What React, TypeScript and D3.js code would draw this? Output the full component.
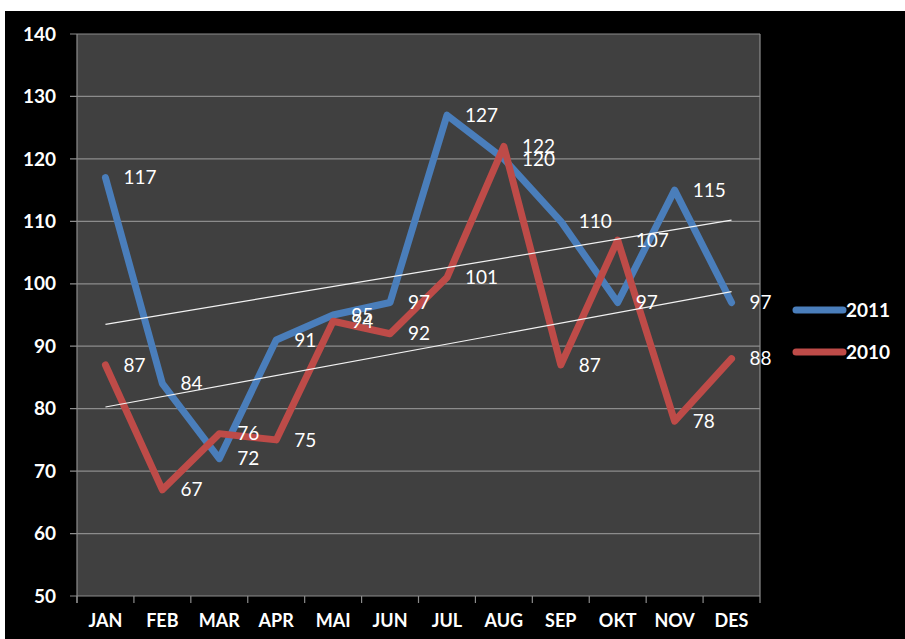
import React from "react";
import * as d3 from "d3";

const months = ["JAN", "FEB", "MAR", "APR", "MAI", "JUN", "JUL", "AUG", "SEP", "OKT", "NOV", "DES"];
const values2011 = [117, 84, 72, 91, 95, 97, 127, 120, 110, 97, 115, 97];
const values2010 = [87, 67, 76, 75, 94, 92, 101, 122, 87, 107, 78, 88];
const yTicks = [50, 60, 70, 80, 90, 100, 110, 120, 130, 140];
const seriesNames = ["2011", "2010"];

const W = 905;
const H = 639;
const plot = { left: 77, top: 34, right: 760, bottom: 596 };
const BLUE = "#4a7ebb";
const RED = "#be4b48";
const FONT = "Lato, 'Open Sans', sans-serif";

function trend(vals: number[]) {
  const n = vals.length;
  const xs = vals.map((_, i) => i);
  const mx = d3.mean(xs) as number;
  const my = d3.mean(vals) as number;
  let sxy = 0, sxx = 0;
  xs.forEach((x, i) => { sxy += (x - mx) * (vals[i] - my); sxx += (x - mx) * (x - mx); });
  const slope = sxy / sxx;
  return [my + slope * (0 - mx), my + slope * (n - 1 - mx)];
}

export default function App() {
  const x = d3.scaleBand<string>().domain(months).range([plot.left, plot.right]);
  const y = d3.scaleLinear().domain([50, 140]).range([plot.bottom, plot.top]);
  const cx = (m: string) => (x(m) as number) + x.bandwidth() / 2;
  const line = d3.line<number>().x((_, i) => cx(months[i])).y((v) => y(v));
  const series = [
    { name: seriesNames[0], vals: values2011, color: BLUE },
    { name: seriesNames[1], vals: values2010, color: RED },
  ];
  const tickXs = months.map((m) => x(m) as number).concat([plot.right]);

  return (
    <svg width={W} height={H} style={{ position: "absolute", left: 0, top: 0, background: "#fff" }}>
      <rect x={5} y={11} width={W - 5} height={H - 11} fill="#000" />
      <rect x={plot.left} y={plot.top} width={plot.right - plot.left} height={plot.bottom - plot.top} fill="#404040" />
      {yTicks.map((t) => (
        <g key={t}>
          <line x1={plot.left - 7} x2={plot.right} y1={y(t)} y2={y(t)} stroke="#8c8c8c" strokeWidth={1.2} />
          <text x={56} y={y(t)} dy="0.35em" textAnchor="end" fill="#fff" fontFamily={FONT} fontWeight="bold" fontSize={19}>
            {t}
          </text>
        </g>
      ))}
      <line x1={plot.left} x2={plot.left} y1={plot.top} y2={plot.bottom + 7} stroke="#8c8c8c" strokeWidth={1.2} />
      <line x1={plot.right} x2={plot.right} y1={plot.top} y2={plot.bottom} stroke="#8c8c8c" strokeWidth={1.2} />
      {tickXs.map((tx, i) => (
        <line key={i} x1={tx} x2={tx} y1={plot.bottom} y2={plot.bottom + 7} stroke="#8c8c8c" strokeWidth={1.2} />
      ))}
      {months.map((m) => (
        <text key={m} x={cx(m)} y={627} textAnchor="middle" fill="#fff" fontFamily={FONT} fontWeight="bold" fontSize={18}>
          {m}
        </text>
      ))}
      {series.map((s) => (
        <path key={s.name} d={line(s.vals) as string} fill="none" stroke={s.color} strokeWidth={7} strokeLinecap="round" strokeLinejoin="round" />
      ))}
      {series.map((s) => {
        const [a, b] = trend(s.vals);
        return (
          <line key={"t" + s.name} x1={cx(months[0])} x2={cx(months[months.length - 1])} y1={y(a)} y2={y(b)} stroke="#f2f2f2" strokeWidth={1.2} />
        );
      })}
      {series.map((s) =>
        s.vals.map((v, i) => (
          <text key={s.name + i} x={cx(months[i]) + 18} y={y(v)} dy="0.35em" fill="#fff" fontFamily={FONT} fontSize={19}>
            {v}
          </text>
        ))
      )}
      {series.map((s, i) => (
        <g key={"l" + s.name} transform={`translate(0, ${310 + i * 42})`}>
          <line x1={796} x2={843} y1={0} y2={0} stroke={s.color} strokeWidth={7} strokeLinecap="round" />
          <text x={846} y={0} dy="0.35em" fill="#fff" fontFamily={FONT} fontWeight="bold" fontSize={19}>
            {s.name}
          </text>
        </g>
      ))}
    </svg>
  );
}
